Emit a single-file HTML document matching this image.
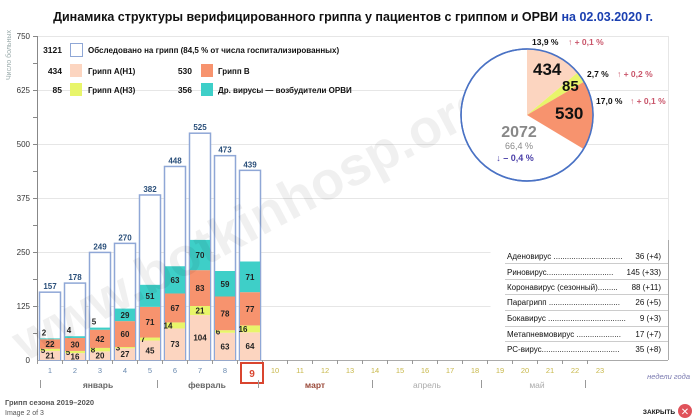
<!DOCTYPE html>
<html><head><meta charset="utf-8"><style>
body{margin:0;background:#fff;}
svg{display:block;font-family:"Liberation Sans","DejaVu Sans",sans-serif;}
</style></head><body>
<svg width="700" height="420" viewBox="0 0 700 420" xmlns="http://www.w3.org/2000/svg">
<rect width="700" height="420" fill="#fff"/>
<text x="353" y="21" text-anchor="middle" font-size="12.5" font-weight="bold" fill="#111">Динамика структуры верифицированного гриппа у пациентов с гриппом и ОРВИ <tspan fill="#1a3fb0">на 02.03.2020 г.</tspan></text>
<g stroke="#e6e6e6" stroke-width="1">
<line x1="38" x2="668" y1="36.5" y2="36.5"/><line x1="38" x2="668" y1="90.5" y2="90.5"/>
<line x1="38" x2="668" y1="144.5" y2="144.5"/><line x1="38" x2="668" y1="198.5" y2="198.5"/>
<line x1="38" x2="668" y1="252.5" y2="252.5"/><line x1="38" x2="668" y1="306.5" y2="306.5"/>
<line x1="668.5" x2="668.5" y1="36" y2="360"/>
</g>
<line x1="37.5" x2="37.5" y1="36" y2="360" stroke="#888"/>
<line x1="37" x2="668" y1="360.5" y2="360.5" stroke="#aaa"/>
<g stroke="#888"><line x1="33" x2="38" y1="36.5" y2="36.5"/><line x1="33" x2="38" y1="63.5" y2="63.5"/><line x1="33" x2="38" y1="90.5" y2="90.5"/><line x1="33" x2="38" y1="117.5" y2="117.5"/><line x1="33" x2="38" y1="144.5" y2="144.5"/><line x1="33" x2="38" y1="171.5" y2="171.5"/><line x1="33" x2="38" y1="198.5" y2="198.5"/><line x1="33" x2="38" y1="225.5" y2="225.5"/><line x1="33" x2="38" y1="252.5" y2="252.5"/><line x1="33" x2="38" y1="279.5" y2="279.5"/><line x1="33" x2="38" y1="306.5" y2="306.5"/><line x1="33" x2="38" y1="333.5" y2="333.5"/></g>
<g font-size="8" fill="#333" text-anchor="end">
<text x="30" y="39">750</text><text x="30" y="93">625</text><text x="30" y="147">500</text><text x="30" y="201">375</text><text x="30" y="255">250</text><text x="30" y="309">125</text><text x="30" y="363">0</text>
</g>
<text transform="translate(11,80) rotate(-90)" font-size="7" fill="#9aa">Число больных</text>
<g font-size="8.5" font-weight="bold" fill="#111">
<rect x="70.5" y="43.5" width="12" height="13" fill="#fff" stroke="#8fa7d6"/>
<text x="62" y="53" text-anchor="end">3121</text><text x="88" y="53" font-size="8">Обследовано на грипп (84,5 % от числа госпитализированных)</text>
<rect x="70" y="64" width="12" height="13" fill="#fcd5c0"/><text x="62" y="74" text-anchor="end">434</text><text x="88" y="74" font-size="8">Грипп А(Н1)</text>
<rect x="201" y="64" width="12" height="13" fill="#f7936e"/><text x="192" y="74" text-anchor="end">530</text><text x="218" y="74" font-size="8">Грипп В</text>
<rect x="70" y="83" width="12" height="13" fill="#e8f56a"/><text x="62" y="93" text-anchor="end">85</text><text x="88" y="93" font-size="8">Грипп А(Н3)</text>
<rect x="201" y="83" width="12" height="13" fill="#3ecfc8"/><text x="192" y="93" text-anchor="end">356</text><text x="218" y="93" font-size="8">Др. вирусы — возбудители ОРВИ</text>
</g>
<g id="bars" font-size="8" font-weight="bold" fill="#222"></g>
<text transform="translate(25,362) rotate(-28)" font-size="54" font-weight="bold" fill="#000" fill-opacity="0.06">www.botkinhosp.org</text>
<circle cx="527" cy="115" r="66" fill="#fff" stroke="#4a72c4" stroke-width="1.5"/>
<path d="M527,115 L527,49 A66,66 0 0 1 577.6,72.6 Z" fill="#fcd5c0"/>
<path d="M527,115 L577.6,72.6 A66,66 0 0 1 584,81.8 Z" fill="#e8f56a"/>
<path d="M527,115 L584,81.8 A66,66 0 0 1 583.6,149 Z" fill="#f7936e"/>
<circle cx="527" cy="115" r="66" fill="none" stroke="#4a72c4" stroke-width="1.5"/>
<g font-weight="bold">
<text x="533" y="75" font-size="17" fill="#111">434</text>
<text x="562" y="91" font-size="15" fill="#111">85</text>
<text x="555" y="119" font-size="17" fill="#111">530</text>
<text x="519" y="137" font-size="16" fill="#888" text-anchor="middle">2072</text>
</g>
<text x="519" y="149" font-size="9" fill="#888" text-anchor="middle">66,4 %</text>
<text x="515" y="161" font-size="9" fill="#4a3fa8" font-weight="bold" text-anchor="middle">↓ – 0,4 %</text>
<g font-size="8.5" font-weight="bold">
<text x="532" y="45" fill="#111">13,9 %</text><text x="568" y="45" fill="#c9556a">↑ + 0,1 %</text>
<text x="587" y="77" fill="#111">2,7 %</text><text x="617" y="77" fill="#c9556a">↑ + 0,2 %</text>
<text x="596" y="104" fill="#111">17,0 %</text><text x="630" y="104" fill="#c9556a">↑ + 0,1 %</text>
</g>
<g font-size="8" fill="#111">
<rect x="490.5" y="244.5" width="178" height="115" fill="#fff" stroke="none"/>
<g stroke="#ccc"><line x1="505" x2="668" y1="263.5" y2="263.5"/><line x1="505" x2="668" y1="279.5" y2="279.5"/><line x1="505" x2="668" y1="294.5" y2="294.5"/><line x1="505" x2="668" y1="310.5" y2="310.5"/><line x1="505" x2="668" y1="326.5" y2="326.5"/><line x1="505" x2="668" y1="341.5" y2="341.5"/></g>
<line x1="668.5" x2="668.5" y1="240" y2="360" stroke="#aaa"/>
<text x="507" y="259">Аденовирус ...............................</text><text x="661" y="259" text-anchor="end">36 (+4)</text>
<text x="507" y="275">Риновирус..............................</text><text x="661" y="275" text-anchor="end">145 (+33)</text>
<text x="507" y="290">Коронавирус (сезонный).........</text><text x="661" y="290" text-anchor="end">88 (+11)</text>
<text x="507" y="305">Парагрипп ................................</text><text x="661" y="305" text-anchor="end">26 (+5)</text>
<text x="507" y="321">Бокавирус ...................................</text><text x="661" y="321" text-anchor="end">9 (+3)</text>
<text x="507" y="337">Метапневмовирус ....................</text><text x="661" y="337" text-anchor="end">17 (+7)</text>
<text x="507" y="352">РС-вирус...................................</text><text x="661" y="352" text-anchor="end">35 (+8)</text>
</g>
<g id="weeks" font-size="7.5"></g>
<rect x="241" y="363" width="22" height="20" fill="#fff" stroke="#d9452f" stroke-width="2"/>
<text x="252" y="377" font-size="10" font-weight="bold" fill="#d9452f" text-anchor="middle">9</text>
<g font-size="8.5" font-weight="bold">
<text x="98" y="388" text-anchor="middle" fill="#666">январь</text>
<text x="207" y="388" text-anchor="middle" fill="#666">февраль</text>
<text x="315" y="388" text-anchor="middle" fill="#9a4a3a">март</text>
<text x="427" y="388" text-anchor="middle" fill="#aaa" font-weight="normal">апрель</text>
<text x="537" y="388" text-anchor="middle" fill="#aaa" font-weight="normal">май</text>
</g>
<g stroke="#999"><line x1="40.5" x2="40.5" y1="380" y2="388"/><line x1="157.5" x2="157.5" y1="380" y2="388"/><line x1="258.5" x2="258.5" y1="380" y2="388"/><line x1="372.5" x2="372.5" y1="380" y2="388"/><line x1="481.5" x2="481.5" y1="380" y2="388"/><line x1="585.5" x2="585.5" y1="380" y2="388"/></g>
<text x="690" y="379" font-size="7.5" font-style="italic" fill="#7a7ab0" text-anchor="end">недели года</text>
<text x="5" y="405" font-size="7.5" font-weight="bold" fill="#555">Грипп сезона 2019–2020</text>
<text x="5" y="415" font-size="7" fill="#555">Image 2 of 3</text>
<text x="675" y="414" font-size="6.5" font-weight="bold" fill="#111" text-anchor="end">ЗАКРЫТЬ</text>
<circle cx="685" cy="411" r="7" fill="#e0525a"/>
<text x="685" y="415" font-size="10" font-weight="bold" fill="#fff" text-anchor="middle">✕</text>
</svg>
<script>
var ns="http://www.w3.org/2000/svg";
function el(p,t,a,txt){var e=document.createElementNS(ns,t);for(var k in a)e.setAttribute(k,a[k]);if(txt!=null)e.textContent=txt;p.appendChild(e);return e;}
var d=[[21,5,22,2,157],[16,5,30,4,178],[20,8,42,5,249],[27,3,60,29,270],[45,7,71,51,382],[73,14,67,63,448],[104,21,83,70,525],[63,6,78,59,473],[64,16,77,71,439]];
var cols=["#fcd5c0","#e8f56a","#f7936e","#3ecfc8"];
var g=document.getElementById("bars");var s=0.432;
d.forEach(function(r,i){var x=39+25*i;var yt=360-r[4]*s;
el(g,"rect",{x:x+0.5,y:yt,width:21,height:360-yt,fill:"#fff",stroke:"#8fa7d6","stroke-width":1.5});
var c=0;for(var j=0;j<4;j++){var h=r[j]*s;var y=360-(c+r[j])*s;el(g,"rect",{x:x+1,y:y,width:20,height:h,fill:cols[j]});
var ty=y+h/2+3;var tx=x+11;if(h<8){ if(j==3){ty=y-3;tx=x+5;} else if(j==1){tx=x+4;} }
el(g,"text",{x:tx,y:ty,"text-anchor":"middle"},r[j]);c+=r[j];}
el(g,"text",{x:x+11,y:yt-3,"text-anchor":"middle",fill:"#2a4f7a"},r[4]);
});
var w=document.getElementById("weeks");
for(var n=1;n<=23;n++){var x=50+25*(n-1);el(w,"line",{x1:x-12.5,x2:x-12.5,y1:360,y2:364,stroke:"#999"});
if(n!=9)el(w,"text",{x:x,y:373,"text-anchor":"middle",fill:n<9?"#6a8ab0":"#c8b84a"},n);}
</script>
</body></html>
